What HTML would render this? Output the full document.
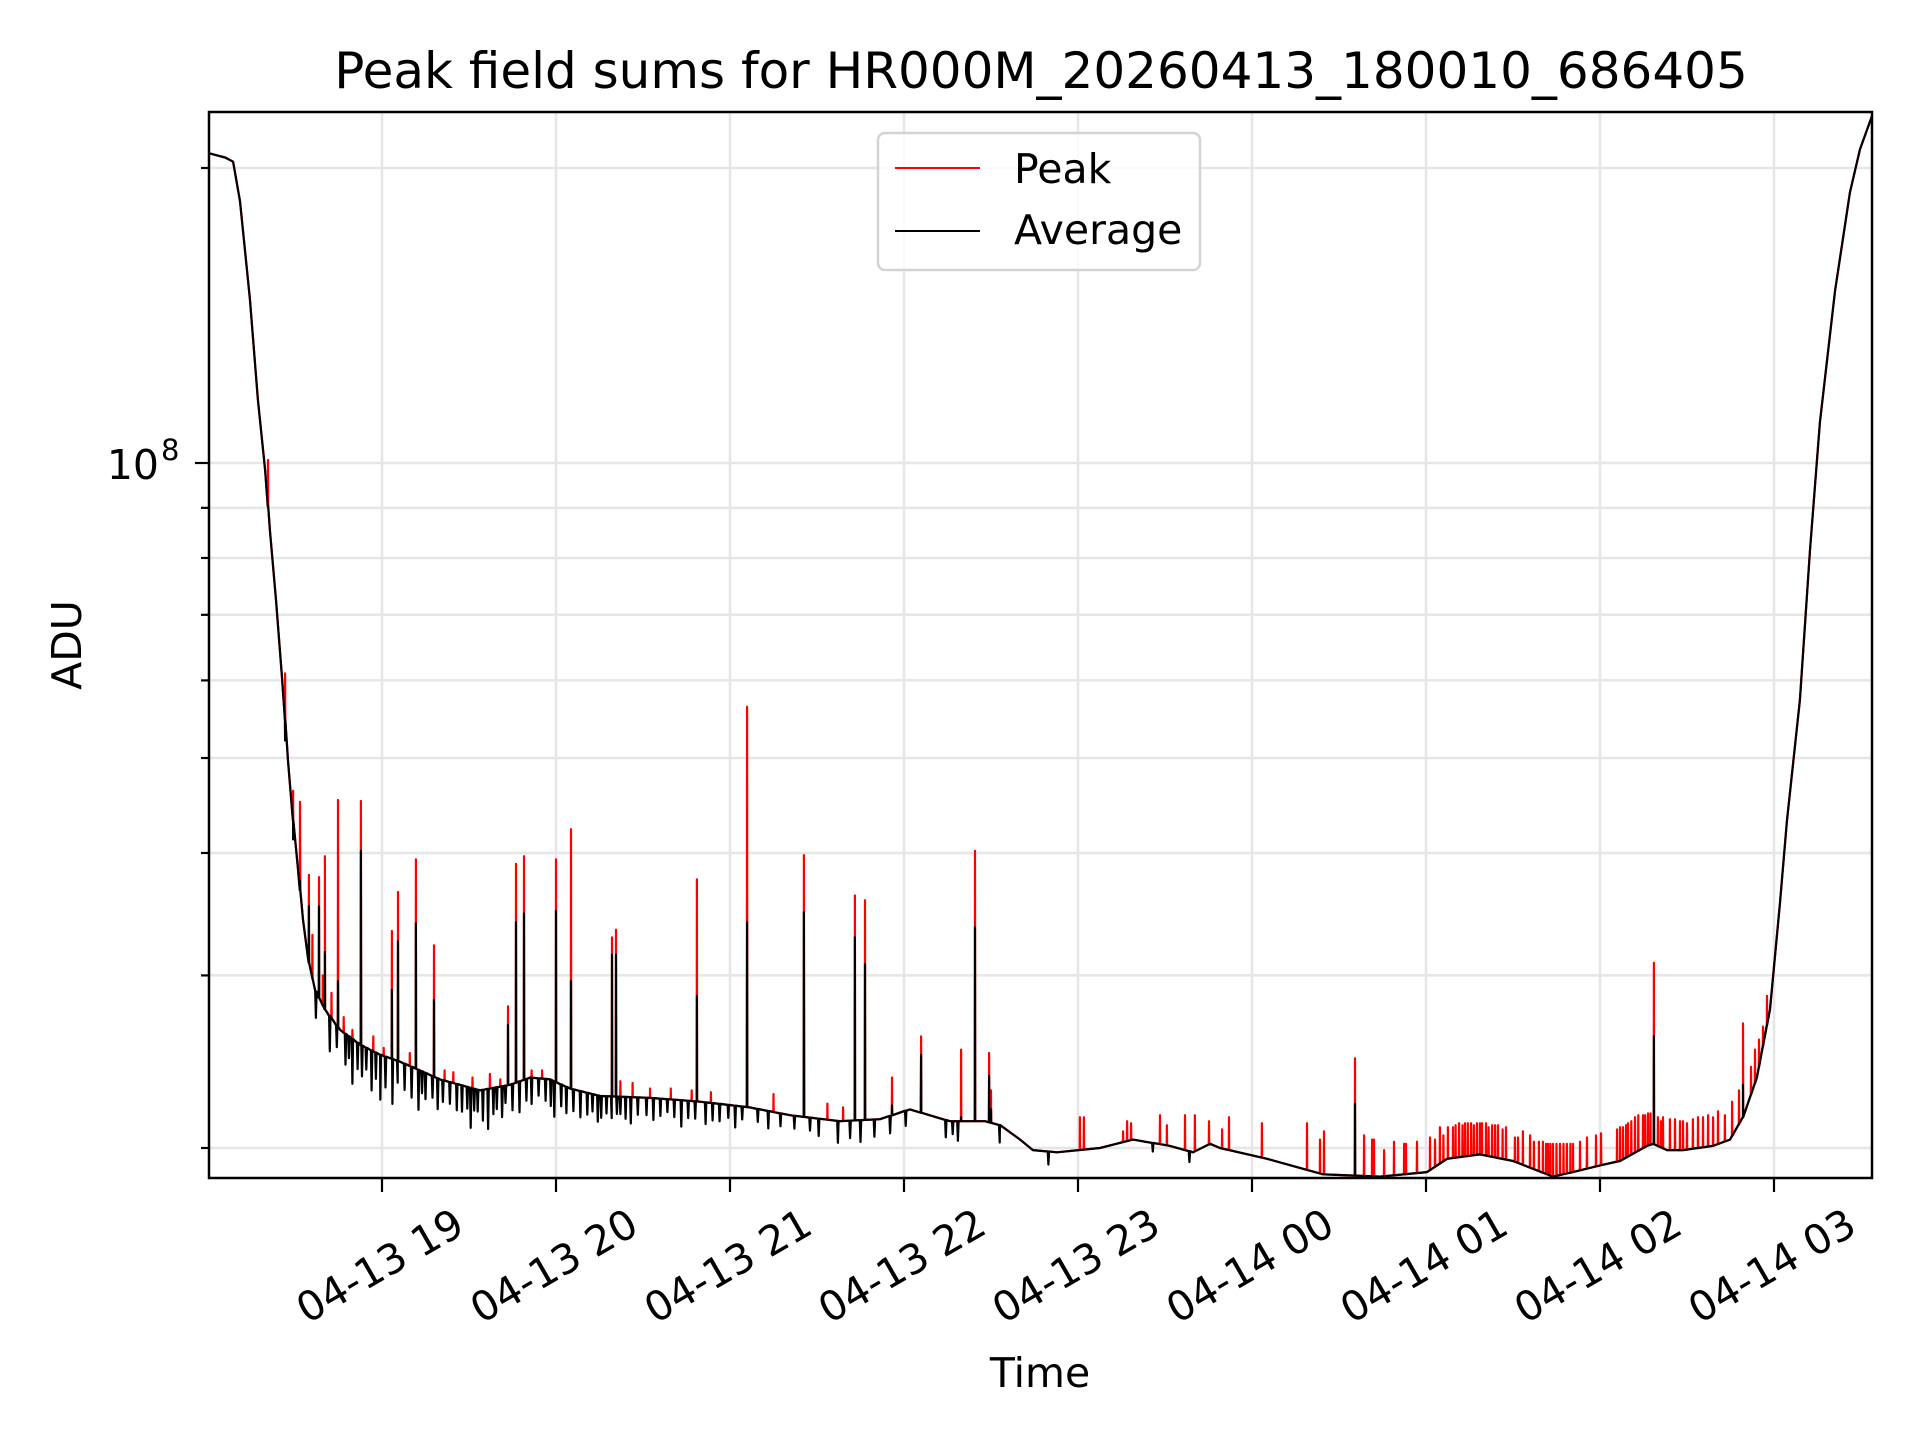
<!DOCTYPE html>
<html><head><meta charset="utf-8"><style>
html,body{margin:0;padding:0;background:#fff;}
svg{display:block;font-family:"DejaVu Sans","Liberation Sans",sans-serif;}
</style></head><body>
<svg id="chart" width="1920" height="1440" viewBox="0 0 1920 1440" xmlns="http://www.w3.org/2000/svg">
<rect width="1920" height="1440" fill="#fff"/>
<g id="grid"></g>
<g id="series"></g>
<g id="axes"></g>
<text x="1041" y="88" font-size="50" text-anchor="middle">Peak field sums for HR000M_20260413_180010_686405</text>
<text x="0" y="0" font-size="41" text-anchor="middle" transform="translate(81,645) rotate(-90)">ADU</text>
<text x="1040" y="1387" font-size="41" text-anchor="middle">Time</text>
<g>
<rect x="878" y="133" width="322" height="137" rx="7" fill="#fff" fill-opacity="0.8" stroke="#d3d3d3" stroke-width="2.5"/>
<line x1="895" y1="168" x2="980" y2="168" stroke="#ff0000" stroke-width="2"/>
<text x="1014" y="183" font-size="41">Peak</text>
<line x1="895" y1="231" x2="980" y2="231" stroke="#000" stroke-width="2"/>
<text x="1014" y="244" font-size="41">Average</text>
</g>
</svg>
<script>
// hours since 18:00, values in millions of ADU
const baseTimes = [0.006,0.098,0.144,0.184,0.241,0.287,0.328,0.356,0.391,0.425,0.460,0.489,0.517,0.546,0.575,0.615,0.672,0.759,0.874,0.989,1.103,1.218,1.333,1.448,1.563,1.736,1.851,1.966,2.080,2.253,2.540,2.828,3.115,3.345,3.632,3.862,4.034,4.264,4.466,4.552,4.667,4.741,4.879,5.126,5.316,5.529,5.661,5.759,5.816,6.086,6.408,6.736,7.006,7.121,7.310,7.500,7.730,7.845,8.000,8.115,8.270,8.305,8.385,8.477,8.649,8.747,8.822,8.902,8.977,9.034,9.075,9.149,9.207,9.264,9.351,9.437,9.494,9.563];
const baseValues = [207,205,203,185,147,116,98.4,85.4,72.5,60.6,49.7,43.2,38.5,34.2,31.2,29.0,27.7,26.4,25.5,24.9,24.5,24.0,23.5,23.2,22.9,23.2,23.6,23.5,23.0,22.6,22.5,22.3,22.0,21.6,21.3,21.4,21.9,21.3,21.3,21.1,20.4,19.9,19.8,20.0,20.4,20.1,19.8,20.2,20.0,19.5,18.8,18.7,18.9,19.5,19.7,19.4,18.7,18.9,19.2,19.4,20.1,20.2,19.9,19.9,20.1,20.4,21.5,23.6,27.7,35.5,43.2,57.3,81.5,110,150,189,209,226];
// big spikes: time, peak value, average value
const spikeTimes = [0.345,0.443,0.489,0.529,0.580,0.638,0.672,0.747,0.879,1.057,1.092,1.195,1.299,1.724,1.770,1.816,2.000,2.086,2.322,2.345,2.810,3.098,3.425,3.718,3.776,3.931,4.098,4.328,4.408,4.489,4.500,6.592,8.310,8.822];
const spikePeaks = [100.7,61.0,46.3,45.1,38.0,37.8,39.7,45.3,45.2,33.3,36.5,39.4,32.2,27.9,39.0,39.7,39.4,42.3,32.8,33.4,37.6,56.4,39.8,36.2,35.8,23.6,26.0,25.2,40.2,25.0,22.9,24.7,30.9,26.8];
const spikeAvgs = [90.5,52.1,41.3,37.5,35.3,35.3,31.7,29.6,40.2,29.0,32.5,33.9,28.3,26.7,34.0,34.7,34.9,29.6,31.5,31.5,28.6,34.0,34.8,32.8,30.8,22.1,24.9,21.5,33.6,23.7,21.9,22.2,26.0,23.2];
// small peak-only spikes
const smallTimes = [0.60,0.66,0.71,0.78,0.83,0.95,1.01,1.16,1.36,1.41,1.52,1.62,1.68,1.86,1.92,2.37,2.44,2.54,2.66,2.78,2.89,3.25,3.56,3.65,5.011,5.034,5.259,5.282,5.305,5.471,5.511,5.615,5.672,5.753,5.828,5.868,6.057,6.316,6.391,6.414,6.644,6.690,6.701,6.759,6.816,6.874,6.885,6.948,7.023,7.052,7.08,7.10,7.126,7.155,7.17,7.190,7.21,7.224,7.24,7.259,7.275,7.293,7.31,7.322,7.345,7.36,7.38,7.397,7.414,7.44,7.460,7.511,7.529,7.557,7.598,7.62,7.649,7.672,7.69,7.701,7.715,7.730,7.75,7.770,7.79,7.810,7.83,7.845,7.885,7.925,7.977,8.006,8.098,8.115,8.132,8.15,8.161,8.18,8.201,8.22,8.247,8.26,8.276,8.29,8.333,8.35,8.362,8.402,8.431,8.460,8.477,8.50,8.534,8.563,8.592,8.621,8.65,8.678,8.718,8.759,8.799,8.868,8.891,8.914,8.937,8.960];
const smallValues = [33.0,30.0,28.8,27.2,26.4,26.0,25.3,25.0,24.0,23.9,23.6,23.8,23.5,24.0,24.0,23.4,23.3,23.0,23.0,22.9,22.8,22.7,22.2,22.0,21.5,21.5,20.8,21.3,21.2,21.6,21.1,21.6,21.6,21.3,20.9,21.5,21.2,21.2,20.4,20.8,20.6,20.4,20.4,19.9,20.3,20.2,20.2,20.3,20.5,20.4,21.0,20.6,21.0,21.0,21.1,21.2,21.1,21.2,21.2,21.2,21.1,21.2,21.2,21.2,21.2,21.0,21.1,21.1,21.1,20.9,21.0,20.5,20.5,20.8,20.6,20.3,20.3,20.3,20.2,20.2,20.2,20.2,20.2,20.2,20.2,20.2,20.2,20.2,20.3,20.5,20.6,20.7,20.9,21.0,21.0,21.1,21.2,21.3,21.5,21.6,21.6,21.6,21.7,21.7,21.5,21.3,21.5,21.4,21.4,21.3,21.3,21.2,21.4,21.5,21.5,21.6,21.5,21.8,21.6,22.3,22.9,24.2,25.2,25.8,26.6,28.6];
// average noise dips: time, ratio of average to baseline
const dipTimes = [0.62,0.70,0.74,0.79,0.81,0.83,0.86,0.885,0.91,0.94,0.965,0.99,1.02,1.06,1.09,1.13,1.17,1.21,1.23,1.25,1.29,1.32,1.35,1.39,1.43,1.46,1.49,1.51,1.53,1.55,1.58,1.61,1.64,1.66,1.69,1.71,1.75,1.79,1.83,1.86,1.90,1.94,1.97,1.99,2.03,2.06,2.10,2.14,2.18,2.21,2.24,2.26,2.29,2.32,2.35,2.37,2.40,2.43,2.47,2.52,2.56,2.60,2.64,2.68,2.72,2.76,2.80,2.86,2.90,2.94,2.99,3.03,3.07,3.16,3.22,3.29,3.37,3.46,3.51,3.62,3.69,3.75,3.83,3.92,4.01,4.24,4.28,4.31,4.55,4.83,5.43,5.64];
const dipRatios = [0.94,0.92,0.95,0.93,0.95,0.90,0.94,0.93,0.95,0.91,0.94,0.90,0.93,0.90,0.95,0.94,0.93,0.91,0.95,0.94,0.95,0.93,0.95,0.95,0.94,0.94,0.95,0.91,0.95,0.95,0.93,0.91,0.94,0.95,0.93,0.96,0.94,0.93,0.95,0.94,0.96,0.95,0.94,0.92,0.95,0.94,0.95,0.94,0.95,0.96,0.94,0.95,0.96,0.95,0.96,0.96,0.95,0.94,0.96,0.96,0.95,0.96,0.97,0.96,0.94,0.96,0.96,0.95,0.96,0.96,0.97,0.95,0.97,0.97,0.96,0.97,0.97,0.97,0.96,0.95,0.96,0.95,0.96,0.96,0.965,0.96,0.97,0.955,0.96,0.97,0.98,0.975];
const xTickLabels = ["04-13 19","04-13 20","04-13 21","04-13 22","04-13 23","04-14 00","04-14 01","04-14 02","04-14 03"];
const xTickHours = [1,2,3,4,5,6,7,8,9];
const yGridValues = [20,30,40,50,60,70,80,90,100,200];

const NS = "http://www.w3.org/2000/svg";
const L = 209, R = 1872, T = 112, B = 1178;
function xs(h){ return 208 + h * 174; }
function ys(v){ return 463 - (Math.log10(v) - 2) * 980; }
function baseAt(h){
  if (h <= baseTimes[0]) return baseValues[0];
  for (let i = 1; i < baseTimes.length; i++){
    if (h <= baseTimes[i]){
      const t = (h - baseTimes[i-1]) / (baseTimes[i] - baseTimes[i-1]);
      return Math.pow(10, Math.log10(baseValues[i-1]) * (1-t) + Math.log10(baseValues[i]) * t);
    }
  }
  return baseValues[baseValues.length-1];
}
function mk(tag, attrs, parent){
  const e = document.createElementNS(NS, tag);
  for (const k in attrs) e.setAttribute(k, attrs[k]);
  parent.appendChild(e);
  return e;
}
const grid = document.getElementById('grid');
const axes = document.getElementById('axes');
const series = document.getElementById('series');

yGridValues.forEach(v => {
  const y = ys(v);
  const g = mk('line', {x1:L, x2:R, y1:y, y2:y, stroke:'#e6e6e6', 'stroke-width':2.5}, grid);
  
  
  const t = mk('line', {x1:L - (v===100?14:8), x2:L, y1:y, y2:y, stroke:'#000', 'stroke-width':2.2}, axes);
  
  
});
xTickHours.forEach((h, i) => {
  const x = xs(h);
  const g = mk('line', {x1:x, x2:x, y1:T, y2:B, stroke:'#e6e6e6', 'stroke-width':2.5}, grid);
  
  
  const t = mk('line', {x1:x, x2:x, y1:B, y2:B+14, stroke:'#000', 'stroke-width':2.2}, axes);
  
  
  const lb = mk('text', {x:0, y:0, 'font-size':41, 'text-anchor':'middle', 'dominant-baseline':'central', transform:'translate(' + (x-2) + ',1266) rotate(-30)'}, axes);
  lb.textContent = xTickLabels[i];
  
  
});
const yl = mk('text', {x:159, y:479, 'font-size':41, 'text-anchor':'end'}, axes);
yl.textContent = '10';


const ys8 = mk('text', {x:161, y:460, 'font-size':29}, axes);
ys8.textContent = '8';



const eps = 0.0012;
let peakPts = [], avgPts = [];
baseTimes.forEach((t, i) => { peakPts.push([t, baseValues[i]]); avgPts.push([t, baseValues[i]]); });
spikeTimes.forEach((t, i) => {
  const b = baseAt(t);
  peakPts.push([t-eps, b], [t, spikePeaks[i]], [t+eps, b]);
  avgPts.push([t-eps, b], [t, spikeAvgs[i]], [t+eps, b]);
});
smallTimes.forEach((t, i) => {
  const b = baseAt(t);
  peakPts.push([t-eps, b], [t, Math.max(b, smallValues[i])], [t+eps, b]);
});
dipTimes.forEach((t, i) => {
  const b = baseAt(t);
  avgPts.push([t-0.004, b], [t, b*dipRatios[i]], [t+0.004, b]);
});
function toPath(pts){
  pts.sort((a,b) => a[0]-b[0]);
  return pts.map((p,i) => (i?'L':'M') + xs(p[0]).toFixed(1) + ' ' + Math.min(B, ys(p[1])).toFixed(1)).join(' ');
}
const clip = mk('clipPath', {id:'plotclip'}, series);
mk('rect', {x:L, y:T, width:R-L, height:B-T}, clip);
const pk = mk('path', {d:toPath(peakPts), fill:'none', stroke:'#ff0000', 'stroke-width':2.2, 'stroke-linejoin':'round', 'clip-path':'url(#plotclip)'}, series);


const av = mk('path', {d:toPath(avgPts), fill:'none', stroke:'#000', 'stroke-width':2.2, 'stroke-linejoin':'round', 'clip-path':'url(#plotclip)'}, series);



const frame = mk('rect', {x:L, y:T, width:R-L, height:B-T, fill:'none', stroke:'#000', 'stroke-width':2.5}, axes);


</script>
</body></html>
